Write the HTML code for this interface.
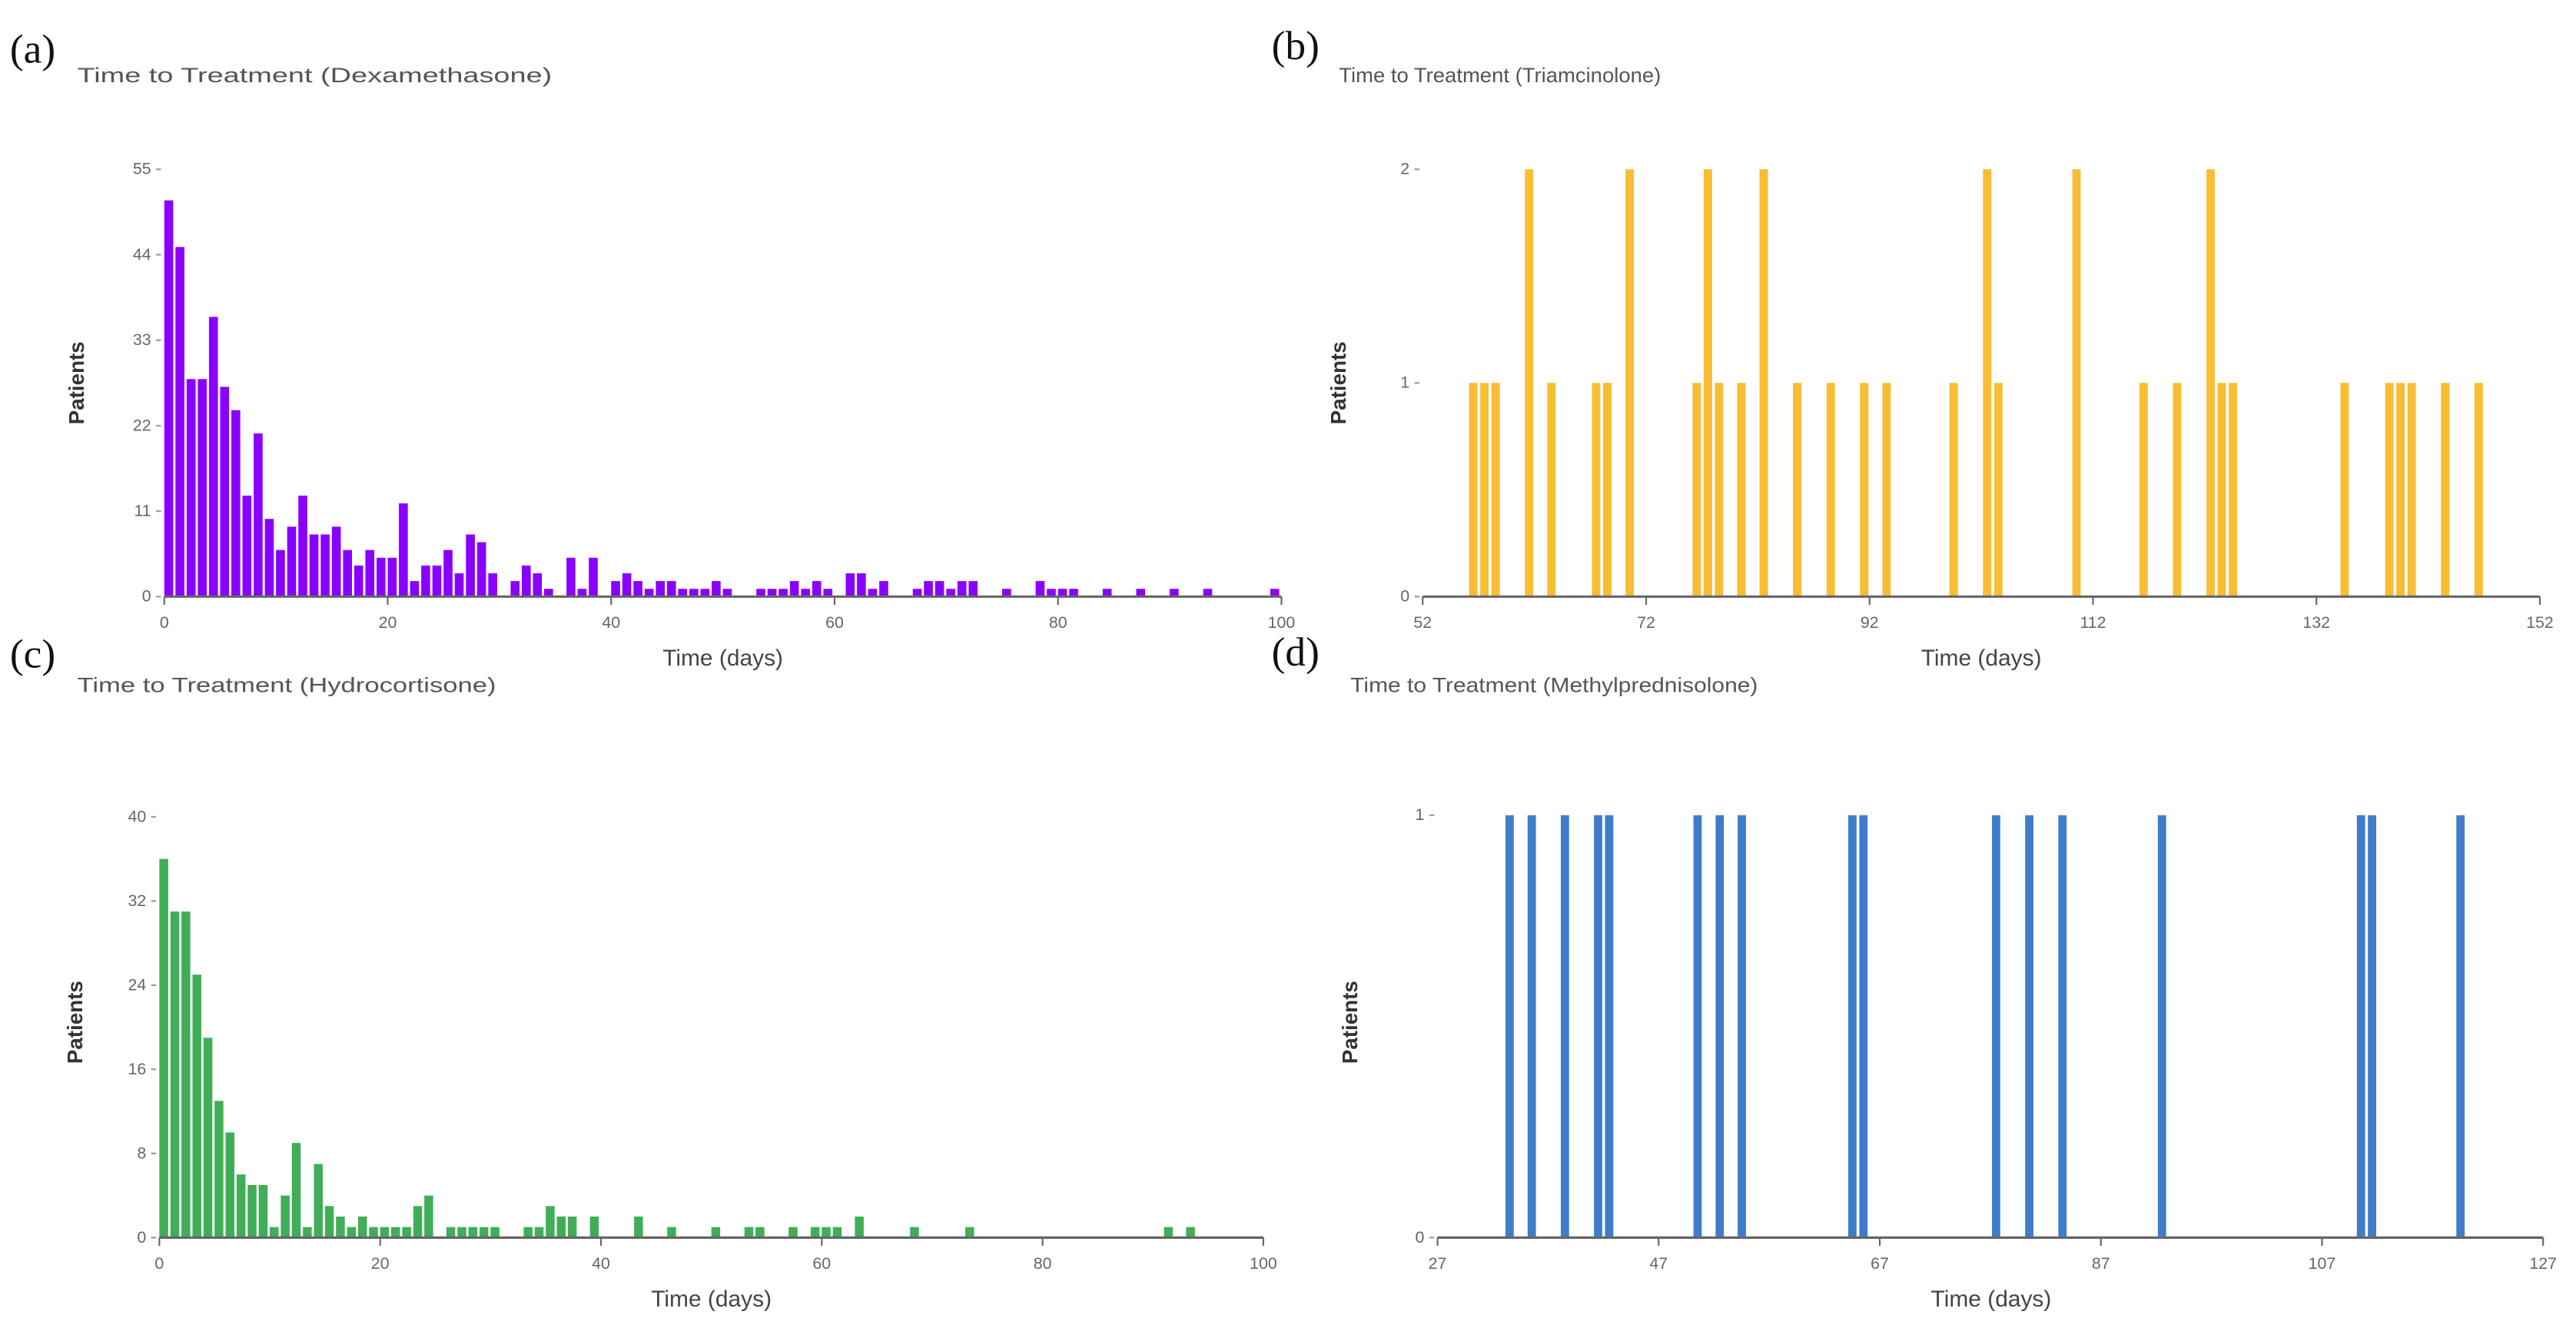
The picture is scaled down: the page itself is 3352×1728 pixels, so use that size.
<!DOCTYPE html>
<html><head><meta charset="utf-8">
<style>
html,body{margin:0;padding:0;background:#fff;}
svg{display:block;}
.t{font-family:"Liberation Sans Narrow","Liberation Sans",sans-serif;fill:#555;font-size:12.5px;}
.p{font-family:"Liberation Serif",serif;fill:#111;font-size:25px;}
.tk{font-family:"Liberation Sans Narrow","Liberation Sans",sans-serif;fill:#666;font-size:10px;}
.yl{font-family:"Liberation Sans",sans-serif;fill:#333;font-size:13px;font-weight:bold;}
.xl{font-family:"Liberation Sans Narrow","Liberation Sans",sans-serif;fill:#444;font-size:14px;}
</style></head>
<body>
<svg id="s" width="3352" height="1728" viewBox="0 0 1568 808" preserveAspectRatio="none" xmlns="http://www.w3.org/2000/svg">
<text class="p" x="6" y="38">(a)</text>
<text class="t" x="47" y="50" textLength="289" lengthAdjust="spacingAndGlyphs">Time to Treatment (Dexamethasone)</text>
<text class="p" x="774" y="36">(b)</text>
<text class="t" x="815" y="50" textLength="196" lengthAdjust="spacingAndGlyphs">Time to Treatment (Triamcinolone)</text>
<text class="p" x="6" y="406">(c)</text>
<text class="t" x="47" y="421" textLength="255" lengthAdjust="spacingAndGlyphs">Time to Treatment (Hydrocortisone)</text>
<text class="p" x="774" y="405">(d)</text>
<text class="t" x="822" y="421" textLength="248" lengthAdjust="spacingAndGlyphs">Time to Treatment (Methylprednisolone)</text>

<text class="yl" transform="translate(51,233) rotate(-90)" text-anchor="middle">Patients</text>
<text class="yl" transform="translate(819,233) rotate(-90)" text-anchor="middle">Patients</text>
<text class="yl" transform="translate(50,622) rotate(-90)" text-anchor="middle">Patients</text>
<text class="yl" transform="translate(826,622) rotate(-90)" text-anchor="middle">Patients</text>

<text class="xl" x="440" y="405" text-anchor="middle">Time (days)</text>
<text class="xl" x="1206" y="405" text-anchor="middle">Time (days)</text>
<text class="xl" x="433" y="795" text-anchor="middle">Time (days)</text>
<text class="xl" x="1212" y="795" text-anchor="middle">Time (days)</text>
<g id="g"></g>
</svg>
<script>
var NS="http://www.w3.org/2000/svg",g=document.getElementById('g');
function el(n,a,txt){var e=document.createElementNS(NS,n);for(var k in a)e.setAttribute(k,a[k]);if(txt!=null)e.textContent=txt;g.appendChild(e);return e;}
function chart(c){
 var sx=(c.x1-c.x0)/(c.d1-c.d0), sy=(c.yb-c.yt)/c.ymax;
 for(var d in c.data){var v=c.data[d];var x=c.x0+(d-c.d0+c.off)*sx;
  el('rect',{x:x,y:c.yb-v*sy,width:c.bw*sx,height:v*sy,fill:c.col});}
 el('line',{x1:c.x0,y1:c.yb,x2:c.x1,y2:c.yb,stroke:'#666','stroke-width':1.5});
 c.xt.forEach(function(t){var x=c.x0+(t-c.d0)*sx;el('line',{x1:x,y1:c.yb,x2:x,y2:c.yb+5,stroke:'#666','stroke-width':1});
  el('text',{'class':'tk',x:x,y:c.yb+19,'text-anchor':'middle'},t);});
 c.yt2.forEach(function(t){var y=c.yb-t*sy;el('line',{x1:c.x0-5,y1:y,x2:c.x0-2,y2:y,stroke:'#999','stroke-width':1});
  el('text',{'class':'tk',x:c.x0-8,y:y+3,'text-anchor':'end'},t);});
}
function arr(s){var o={};s.split(' ').forEach(function(p){var q=p.split(':');o[q[0]]=+q[1];});return o;}
chart({x0:100,x1:780,d0:0,d1:100,yb:363,yt:103,ymax:55,col:'#8a00ff',off:0,bw:0.8,
 xt:[0,20,40,60,80,100],yt2:[0,11,22,33,44,55],
 data:arr("0:51 1:45 2:28 3:28 4:36 5:27 6:24 7:13 8:21 9:10 10:6 11:9 12:13 13:8 14:8 15:9 16:6 17:4 18:6 19:5 20:5 21:12 22:2 23:4 24:4 25:6 26:3 27:8 28:7 29:3 31:2 32:4 33:3 34:1 36:5 37:1 38:5 40:2 41:3 42:2 43:1 44:2 45:2 46:1 47:1 48:1 49:2 50:1 53:1 54:1 55:1 56:2 57:1 58:2 59:1 61:3 62:3 63:1 64:2 67:1 68:2 69:2 70:1 71:2 72:2 75:1 78:2 79:1 80:1 81:1 84:1 87:1 90:1 93:1 99:1")});
chart({x0:866,x1:1546,d0:52,d1:152,yb:363,yt:103,ymax:2,col:'#f8bd34',off:0.15,bw:0.75,
 xt:[52,72,92,112,132,152],yt2:[0,1,2],
 data:arr("56:1 57:1 58:1 61:2 63:1 67:1 68:1 70:2 76:1 77:2 78:1 80:1 82:2 85:1 88:1 91:1 93:1 99:1 102:2 103:1 110:2 116:1 119:1 122:2 123:1 124:1 134:1 138:1 139:1 140:1 143:1 146:1")});
chart({x0:97,x1:769,d0:0,d1:100,yb:753,yt:497,ymax:40,col:'#3fae57',off:0,bw:0.8,
 xt:[0,20,40,60,80,100],yt2:[0,8,16,24,32,40],
 data:arr("0:36 1:31 2:31 3:25 4:19 5:13 6:10 7:6 8:5 9:5 10:1 11:4 12:9 13:1 14:7 15:3 16:2 17:1 18:2 19:1 20:1 21:1 22:1 23:3 24:4 26:1 27:1 28:1 29:1 30:1 33:1 34:1 35:3 36:2 37:2 39:2 43:2 46:1 50:1 53:1 54:1 57:1 59:1 60:1 61:1 63:2 68:1 73:1 91:1 93:1")});
chart({x0:875,x1:1548,d0:27,d1:127,yb:753,yt:496,ymax:1,col:'#3e7dcc',off:0.15,bw:0.75,
 xt:[27,47,67,87,107,127],yt2:[0,1],
 data:arr("33:1 35:1 38:1 41:1 42:1 50:1 52:1 54:1 64:1 65:1 77:1 80:1 83:1 92:1 110:1 111:1 119:1")});
</script>
</body></html>
